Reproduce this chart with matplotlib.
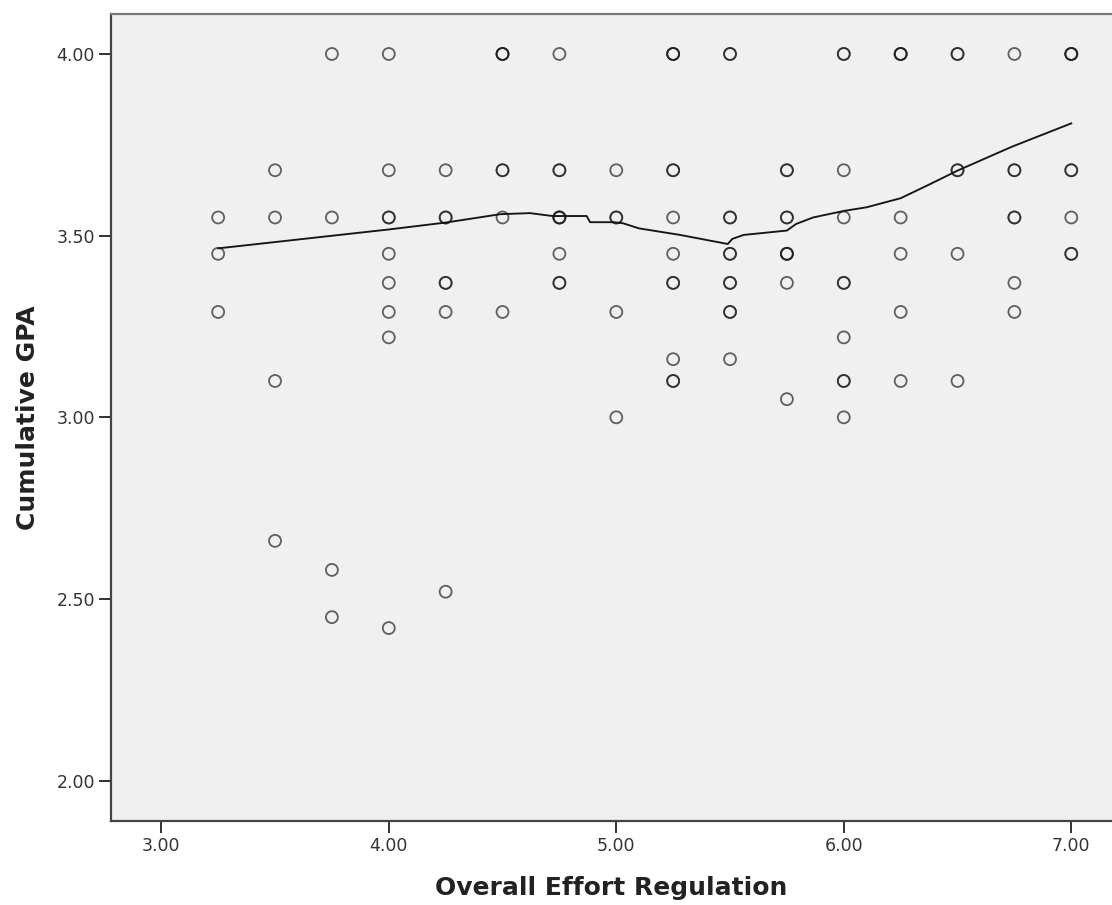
import numpy as np
import matplotlib
matplotlib.use("Agg")
import matplotlib.pyplot as plt

# --- Data: effort regulation score vs cumulative GPA (n_cases = overlapping students) ---

effort = [3.25, 3.25, 3.25,
          3.50, 3.50, 3.50, 3.50,
          3.75, 3.75, 3.75, 3.75,
          4.00, 4.00, 4.00, 4.00, 4.00, 4.00, 4.00, 4.00,
          4.25, 4.25, 4.25, 4.25, 4.25,
          4.50, 4.50, 4.50, 4.50,
          4.75, 4.75, 4.75, 4.75, 4.75,
          5.00, 5.00, 5.00, 5.00,
          5.25, 5.25, 5.25, 5.25, 5.25, 5.25, 5.25,
          5.50, 5.50, 5.50, 5.50, 5.50, 5.50,
          5.75, 5.75, 5.75, 5.75, 5.75,
          6.00, 6.00, 6.00, 6.00, 6.00, 6.00, 6.00,
          6.25, 6.25, 6.25, 6.25, 6.25,
          6.50, 6.50, 6.50, 6.50,
          6.75, 6.75, 6.75, 6.75, 6.75,
          7.00, 7.00, 7.00, 7.00]

gpa = [3.55, 3.45, 3.29,
       3.68, 3.55, 3.10, 2.66,
       4.00, 3.55, 2.58, 2.45,
       4.00, 3.68, 3.55, 3.45, 3.37, 3.29, 3.22, 2.42,
       3.68, 3.55, 3.37, 3.29, 2.52,
       4.00, 3.68, 3.55, 3.29,
       4.00, 3.68, 3.55, 3.45, 3.37,
       3.68, 3.55, 3.29, 3.00,
       4.00, 3.68, 3.55, 3.45, 3.37, 3.16, 3.10,
       4.00, 3.55, 3.45, 3.37, 3.29, 3.16,
       3.68, 3.55, 3.45, 3.37, 3.05,
       4.00, 3.68, 3.55, 3.37, 3.22, 3.10, 3.00,
       4.00, 3.55, 3.45, 3.29, 3.10,
       4.00, 3.68, 3.45, 3.10,
       4.00, 3.68, 3.55, 3.37, 3.29,
       4.00, 3.68, 3.55, 3.45]

n_cases = [1, 1, 1,
           1, 1, 1, 1,
           1, 1, 1, 1,
           1, 1, 2, 1, 1, 1, 1, 1,
           1, 2, 2, 1, 1,
           3, 2, 1, 1,
           1, 2, 3, 1, 2,
           1, 2, 1, 1,
           3, 2, 1, 1, 2, 1, 2,
           2, 2, 2, 2, 2, 1,
           2, 2, 3, 1, 1,
           2, 1, 1, 2, 1, 2, 1,
           3, 1, 1, 1, 1,
           2, 2, 1, 1,
           1, 2, 2, 1, 1,
           3, 2, 1, 2]

# loess fit line (vertices)
fit_x = [3.25, 4.00, 4.25, 4.49, 4.62, 4.72, 4.87, 4.885, 4.99, 5.03, 5.10,
         5.28, 5.49, 5.51, 5.56, 5.75, 5.79, 5.865, 6.00, 6.10, 6.25, 6.37,
         6.50, 6.74, 7.00]
fit_y = [3.465, 3.517, 3.536, 3.559, 3.562, 3.554, 3.554, 3.537, 3.537, 3.534, 3.520,
         3.502, 3.477, 3.491, 3.502, 3.514, 3.532, 3.550, 3.568, 3.578, 3.603, 3.639,
         3.679, 3.745, 3.809]

# --- Plot ---

W, H = 1112, 905
fig = plt.figure(figsize=(W / 100, H / 100), dpi=100)
ax = fig.add_axes([111 / W, (H - 821) / H, (W - 111) / W, (821 - 14) / H])
ax.set_facecolor("#f0f0f0")

xs = np.repeat(effort, n_cases)
ys = np.repeat(gpa, n_cases)
ax.scatter(xs, ys, s=74, facecolors="none", edgecolors=(0.1, 0.1, 0.1, 0.68),
           linewidths=1.3, zorder=3)

ax.plot(fit_x, fit_y, color="#151515", lw=1.35, zorder=4)

ax.set_xlim(2.779, 7.179)
ax.set_ylim(1.889, 4.110)
ax.set_xticks([3, 4, 5, 6, 7])
ax.set_yticks([2.0, 2.5, 3.0, 3.5, 4.0])
ax.xaxis.set_major_formatter(matplotlib.ticker.FormatStrFormatter("%.2f"))
ax.yaxis.set_major_formatter(matplotlib.ticker.FormatStrFormatter("%.2f"))
ax.tick_params(direction="out", length=8.5, width=1.4, color="#333333",
               labelsize=12.5, labelcolor="#333333", pad=3)

for side in ["left", "bottom", "top"]:
    ax.spines[side].set_color("#444444")
    ax.spines[side].set_linewidth(1.6)
ax.spines["top"].set_color("#777777")
ax.spines["right"].set_visible(False)

ax.set_xlabel("Overall Effort Regulation", fontsize=18, fontweight="bold",
              color="#222222", labelpad=15)
ax.set_ylabel("Cumulative GPA", fontsize=18, fontweight="bold",
              color="#222222", labelpad=12)

fig.savefig("out.png", dpi=100)
